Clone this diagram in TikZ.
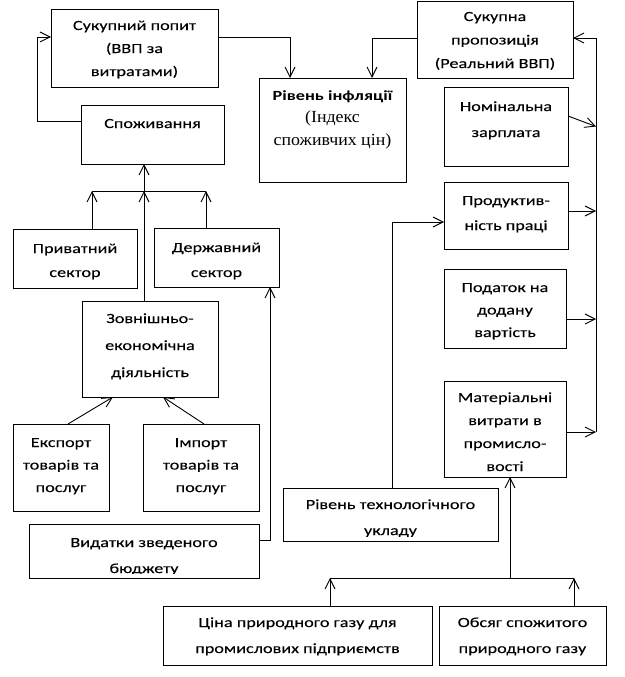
\documentclass[tikz,border=0pt]{standalone}
\usepackage{fontspec}
\setmainfont{Carlito}[FakeStretch=1.3, UprightFeatures={FakeBold=0.08}]
\newfontfamily\serifr{Liberation Serif}[FakeStretch=1.05]
\usetikzlibrary{arrows.meta,calc}
\tikzset{
  box/.style={draw, line width=0.9pt, inner sep=0pt, outer sep=0pt, rectangle},
  txt/.style={inner sep=0pt, outer sep=0pt, align=center},
  arr/.style={line width=0.9pt, -{Straight Barb[length=10pt,width=10pt]}},
  ln/.style={line width=0.9pt},
}
% name, x1, y1, x2, y2, first baseline offset, line spacing, text
\newcommand\bx[8]{%
  \node[box, minimum width={#4pt-#2pt}, minimum height={#5pt-#3pt}, anchor=north west] (#1) at (#2,#3) {};
  \begin{scope}
    \clip (#1.north west) rectangle ([yshift=5pt]#1.south east);
    \node[txt, anchor=north, font=\fontsize{14}{#7}\selectfont] (#1t) at ($(#1.north)+(0,#6-13)$) {\rule{0pt}{13pt}#8};
  \end{scope}}
\begin{document}
\begin{tikzpicture}[x=1pt,y=-1pt]
\fill[white] (0,0) rectangle (624,677);
\useasboundingbox (0,0) rectangle (624,677);

\bx{pop}{51}{9}{218}{87}{21}{23}{Сукупний попит\\(ВВП за\\витратами)}
\bx{spoz}{81}{105}{224}{164}{23}{23}{Споживання}
\bx{inf}{259}{78}{406}{182}{22}{22.5}{{\bfseries Рівень інфляції}\\{\serifr\fontsize{17}{22}\selectfont (Індекс}\\{\serifr\fontsize{17}{22}\selectfont споживчих цін)}}
\bx{sukp}{417}{1}{573}{78}{20}{23.5}{Сукупна\\пропозиція\\(Реальний ВВП)}
\bx{nom}{444}{87}{568}{166}{24}{26}{Номінальна\\зарплата}
\bx{prod}{444}{182}{568}{249}{23}{25}{Продуктив-\\ність праці}
\bx{pod}{444}{269}{566}{348}{23}{22.5}{Податок на\\додану\\вартість}
\bx{mat}{444}{381}{566}{477}{21}{23}{Матеріальні\\витрати в\\промисло-\\вості}
\bx{priv}{13}{229}{137}{288}{24}{24}{Приватний\\сектор}
\bx{derzh}{154}{228}{279}{287}{24}{25}{Державний\\сектор}
\bx{zovn}{82}{301}{218}{397}{22}{27}{Зовнішньо-\\економічна\\діяльність}
\bx{eksp}{13}{424}{109}{511}{23}{22.5}{Експорт\\товарів та\\послуг}
\bx{imp}{143}{424}{259}{511}{23}{22.5}{Імпорт\\товарів та\\послуг}
\bx{vyd}{29}{524}{259}{578}{23}{26}{Видатки зведеного\\бюджету}
\bx{tech}{283}{488}{498}{541}{21}{26}{Рівень технологічного\\укладу}
\bx{cina}{163}{606}{432}{665}{21}{26}{Ціна природного газу для\\промислових підприємств}
\bx{obs}{439}{606}{606}{665}{21}{26}{Обсяг спожитого\\природного газу}

% junction points
\coordinate (b1l) at (92,191);
\coordinate (b1c) at (144,191);
\coordinate (b1r) at (206,191);
\coordinate (b2l) at (330,578);
\coordinate (b2c) at (510,578);
\coordinate (b2r) at (574,578);
\coordinate (spbot) at (596,432);
\coordinate (sptop) at (596,38);

% left part
\draw[arr] (spoz.west |- 0,121) -- ++(-44,0) |- (pop.west |- 0,37);
\draw[arr] (pop.east |- 0,37) -| (inf.north -| 290,0);
\draw[ln] (b1l) -- (b1r);
\draw[arr] (priv.north -| b1l) -- (b1l);
\draw[arr] (derzh.north -| b1r) -- (b1r);
\draw[arr] (zovn.north -| b1c) -- (b1c);
\draw[arr] (b1c) -- (spoz.south -| b1c);
\draw[arr] (eksp.north -| 68,0) -- (zovn.south -| 113,0);
\draw[arr] (imp.north -| 204,0) -- (zovn.south -| 163,0);
\draw[arr] (vyd.east |- 0,540) -| (derzh.south -| 270,0);

% right part
\draw[arr] (sukp.west |- 0,38) -| (inf.north -| 372,0);
\draw[arr] (spbot) -- (sptop) -- (sukp.east |- sptop);
\draw[arr] (nom.east |- 0,116) -- (nom.east -| spbot);
\draw[arr] (prod.east |- 0,211) -- (596,211);
\draw[arr] (pod.east |- 0,319) -- (596,319);
\draw[arr] (mat.east |- spbot) -- (spbot);
\draw[arr] (tech.north -| 392,0) |- (prod.west |- 0,222);

% bottom part
\draw[ln] (b2l) -- (b2r);
\draw[arr] (cina.north -| b2l) -- (b2l);
\draw[arr] (obs.north -| b2r) -- (b2r);
\draw[arr] (b2c) -- (mat.south -| b2c);
\end{tikzpicture}
\end{document}
